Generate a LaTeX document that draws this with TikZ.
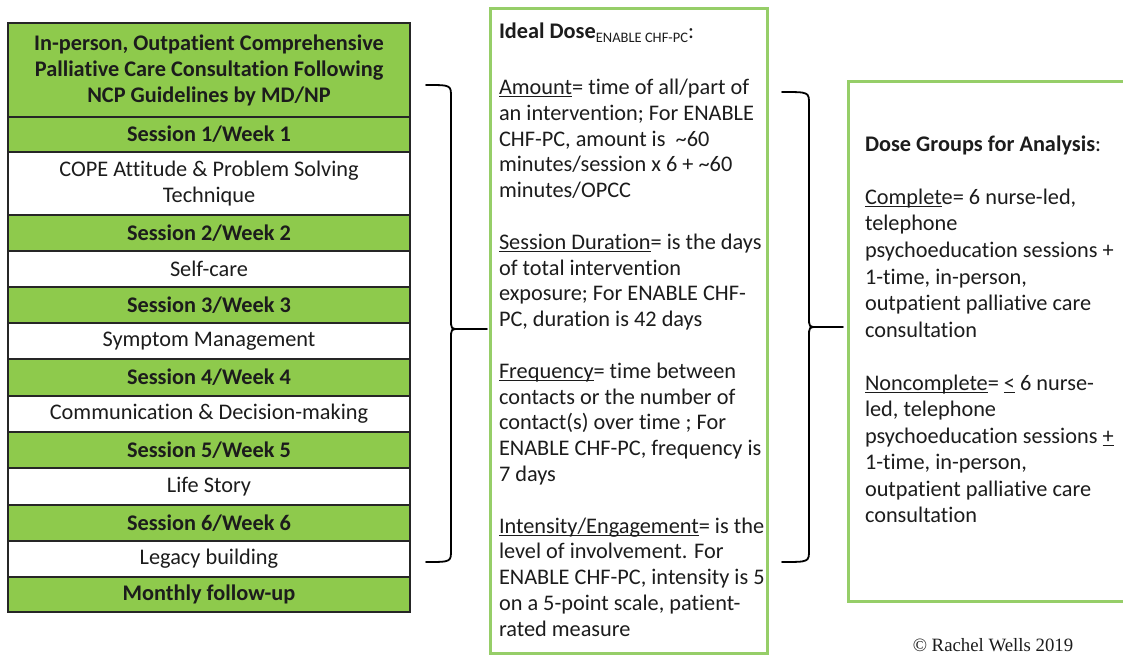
\documentclass[tikz,border=0pt]{standalone}
\usepackage{fontspec}
\setmainfont{Carlito}[Ligatures={NoCommon}]
\newfontfamily\crserif{Liberation Serif}
\definecolor{tgreen}{RGB}{142,202,76}
\definecolor{bgreen}{RGB}{150,206,104}
\definecolor{txt}{RGB}{28,28,28}
\newcommand\ulx[1]{\setbox0=\hbox{#1}\rlap{\rule[-2.9pt]{\wd0}{1.1pt}}\box0}
\newcommand\tld{\textasciitilde}
\tikzset{
  tabrow/.style={draw=black!85, line width=1.2pt, minimum width=402pt, inner sep=0pt, outer sep=0pt,
    anchor=north west, align=center, text=txt, font=\fontsize{22.3}{26}\selectfont},
  greenrow/.style={tabrow, fill=tgreen, font=\bfseries\fontsize{22.3}{26}\selectfont},
  whiterow/.style={tabrow, fill=white},
  gbox/.style={draw=bgreen, line width=3pt},
  bracepath/.style={line width=1.8pt, black, line cap=round},
  bodyline/.style={anchor=base west, inner sep=0pt, outer sep=0pt, text=txt, font=\fontsize{22.3}{25}\selectfont},
}
\newcommand\mline[3]{\node[bodyline] (#1) at (499,#2) {#3};}
\newcommand\rline[3]{\node[bodyline] (#1) at (865,#2) {#3};}
\begin{document}
\begin{tikzpicture}[x=1pt,y=-1pt]
\useasboundingbox[fill=white] (0,0) rectangle (1123,660);
% ---- left table ----
\node[greenrow, minimum height=94pt] (hdr) at (8,23) {In-person, Outpatient Comprehensive\\Palliative Care Consultation Following\\NCP Guidelines by MD/NP};
\node[greenrow, minimum height=35pt] (s1) at (8,117) {Session 1/Week 1};
\node[whiterow, minimum height=63pt] (t1) at (8,152) {COPE Attitude \& Problem Solving\\Technique};
\node[greenrow, minimum height=36pt] (s2) at (8,215) {Session 2/Week 2};
\node[whiterow, minimum height=36pt] (t2) at (8,251) {Self-care};
\node[greenrow, minimum height=36pt] (s3) at (8,287) {Session 3/Week 3};
\node[whiterow, minimum height=36pt] (t3) at (8,323) {Symptom Management};
\node[greenrow, minimum height=37pt] (s4) at (8,359) {Session 4/Week 4};
\node[whiterow, minimum height=36pt] (t4) at (8,396) {Communication \& Decision-making};
\node[greenrow, minimum height=36pt] (s5) at (8,432) {Session 5/Week 5};
\node[whiterow, minimum height=37pt] (t5) at (8,468) {Life Story};
\node[greenrow, minimum height=36pt] (s6) at (8,505) {Session 6/Week 6};
\node[whiterow, minimum height=36pt] (t6) at (8,541) {Legacy building};
\node[greenrow, minimum height=35pt] (mf) at (8,577) {Monthly follow-up};
% ---- middle box ----
\draw[gbox] (490,9) rectangle (767,653);
\node[bodyline] (idh) at (499,38.5) {{\bfseries Ideal Dose}{\fontsize{14.5}{15}\selectfont\raisebox{-4.5pt}{ENABLE CHF-PC}}:};
\mline{m0}{94.5}{\ulx{Amount}= time of all/part of}
\mline{m1}{120.3}{an intervention; For ENABLE}
\mline{m2}{146.1}{CHF-PC, amount is \ \tld60}
\mline{m3}{171.9}{minutes/session x 6 + \tld60}
\mline{m4}{197.7}{minutes/OPCC}
\mline{m6}{249.3}{\ulx{Session Duration}= is the days}
\mline{m7}{275.1}{of total intervention}
\mline{m8}{300.9}{exposure; For ENABLE CHF-}
\mline{m9}{326.7}{PC, duration is 42 days}
\mline{m11}{378.3}{\ulx{Frequency}= time between}
\mline{m12}{404.1}{contacts or the number of}
\mline{m13}{429.9}{contact(s) over time ; For}
\mline{m14}{455.7}{ENABLE CHF-PC, frequency is}
\mline{m15}{481.5}{7 days}
\mline{m17}{533.1}{\ulx{Intensity/Engagement}= is the}
\mline{m18}{558.9}{level of involvement. For}
\mline{m19}{584.7}{ENABLE CHF-PC, intensity is 5}
\mline{m20}{610.5}{on a 5-point scale, patient-}
\mline{m21}{636.3}{rated measure}
% ---- right box ----
\draw[gbox] (848,82) rectangle (1130,601);
\rline{dg}{151.5}{{\bfseries Dose Groups for Analysis}:}
\rline{r2}{204.5}{\ulx{Complet}e= 6 nurse-led,}
\rline{r3}{231}{telephone}
\rline{r4}{257.5}{psychoeducation sessions +}
\rline{r5}{284}{1-time, in-person,}
\rline{r6}{310.5}{outpatient palliative care}
\rline{r7}{337}{consultation}
\rline{r9}{390}{\ulx{Noncomplete}= \ulx{<}\ 6 nurse-}
\rline{r10}{416.5}{led, telephone}
\rline{r11}{443}{psychoeducation sessions \ulx{+}}
\rline{r12}{469.5}{1-time, in-person,}
\rline{r13}{496}{outpatient palliative care}
\rline{r14}{522.5}{consultation}
% ---- braces ----
\coordinate (aTop) at (426,85);
\coordinate (aBot) at (426,562);
\coordinate (aTip) at (487,329);
\coordinate (bTop) at (782,92);
\coordinate (bBot) at (782,562);
\coordinate (bTip) at (843,327);
\draw[bracepath] (aTop) .. controls (451,85) and (451,85) .. (451,97) -- (451,319)
  .. controls (451,329) .. (459,329) -- (aTip);
\draw[bracepath] (459,329) .. controls (451,329) .. (451,339) -- (451,550)
  .. controls (451,562) and (451,562) .. (aBot);
\draw[bracepath] (bTop) .. controls (809,92) and (809,92) .. (809,104) -- (809,317)
  .. controls (809,327) .. (817,327) -- (bTip);
\draw[bracepath] (817,327) .. controls (809,327) .. (809,337) -- (809,550)
  .. controls (809,562) and (809,562) .. (bBot);
% ---- copyright ----
\node[text=txt, font=\crserif\fontsize{18.8}{19}\selectfont, inner sep=0pt] (copy) at (993,645) {\textcopyright\ Rachel Wells 2019};
\end{tikzpicture}
\end{document}
